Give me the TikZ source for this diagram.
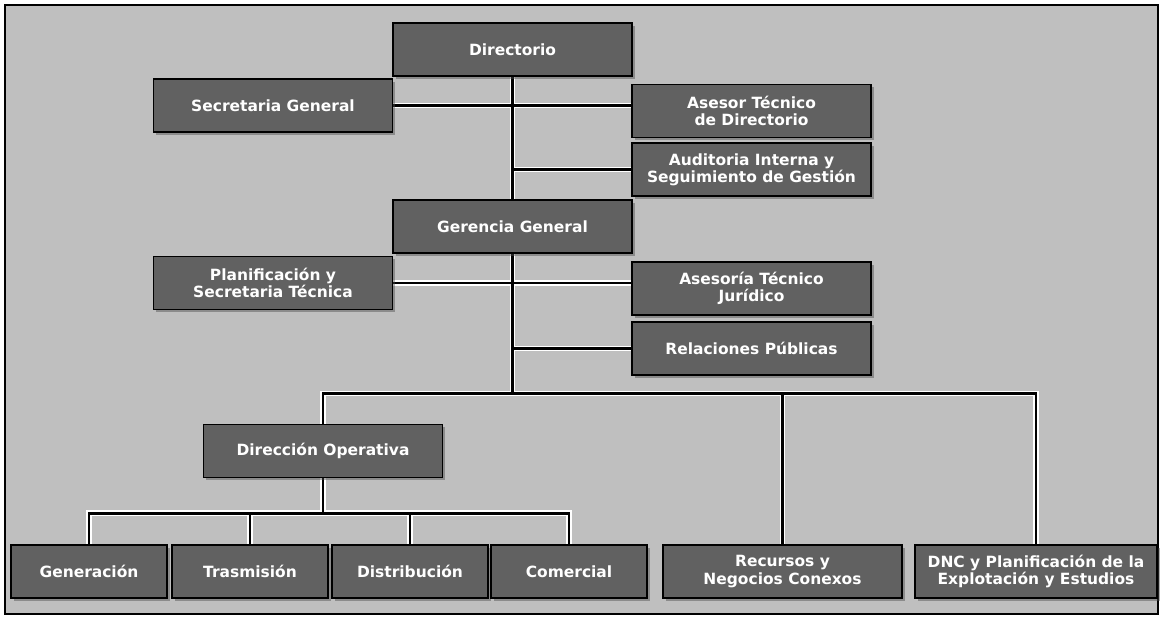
\documentclass[tikz,border=0pt]{standalone}
\usepackage{fontspec}
\setsansfont{DejaVu Sans}
\usetikzlibrary{shadows}
\pgfdeclarelayer{bg}
\pgfdeclarelayer{lines}
\pgfsetlayers{bg,lines,main}

\tikzset{
  box/.style={draw=black, line width=0.8pt, fill=black!62, text=white,
    font=\sffamily\bfseries\fontsize{11.6}{13}\selectfont, align=center,
    inner sep=0pt, minimum height=39.75pt,
    drop shadow={shadow xshift=2pt, shadow yshift=-2pt, opacity=0.45, fill=black!70}},
  widebox/.style={box, minimum width=179.25pt},
  smallbox/.style={box, minimum width=117pt},
  halo/.style={white, line width=4.4pt},
  conn/.style={black, line width=2.2pt},
}

% every connector of the chart, called once for the halo and once for the line
\newcommand\orgconns[1]{%
  \draw[#1] (dir.south) -- (gergen.north);
  \draw[#1] (secgen.east) -- (secgen.east -| asesor.west);
  \draw[#1] (audit.west) -- (audit.west -| dir.south);
  \draw[#1] (planif.east) -- (planif.east -| juridico.west);
  \draw[#1] (rrpp.west) -- (rrpp.west -| gergen.south);
  \draw[#1] (gergen.south) -- (bus);
  \draw[#1] (dirop.north) |- (bus) -| (dnc.north);
  \draw[#1] (bus -| recursos.north) -- (recursos.north);
  \draw[#1] (dirop.south) -- (sub);
  \draw[#1] (gen.north) |- (sub) -| (com.north);
  \draw[#1] (tras.north) -- (tras.north |- sub);
  \draw[#1] (dist.north) -- (dist.north |- sub);
}

\begin{document}
\begin{tikzpicture}[x=0.75pt, y=-0.75pt]
  \useasboundingbox (0,0) rectangle (1163,619);

  %%%%% top level %%%%%
  \node[widebox] (dir) at (512.5, 49.5) {Directorio};
  \node[widebox] (secgen) at (273, 105.5) {Secretaria General};
  \node[widebox] (asesor) at (751.5, 111) {Asesor Técnico\\de Directorio};
  \node[widebox] (audit) at (751.5, 169.5) {Auditoria Interna y\\Seguimiento de Gestión};

  %%%%% gerencia %%%%%
  \node[widebox] (gergen) at (512.5, 226.5) {Gerencia General};
  \node[widebox] (planif) at (273, 283) {Planificación y\\Secretaria Técnica};
  \node[widebox] (juridico) at (751.5, 288.5) {Asesoría Técnico\\Jurídico};
  \node[widebox] (rrpp) at (751.5, 348.5) {Relaciones Públicas};

  %%%%% operativa %%%%%
  \node[widebox] (dirop) at (323, 451) {Dirección Operativa};

  \node[smallbox] (gen) at (89, 571.5) {Generación};
  \node[smallbox] (tras) at (250, 571.5) {Trasmisión};
  \node[smallbox] (dist) at (410, 571.5) {Distribución};
  \node[smallbox] (com) at (569, 571.5) {Comercial};
  \node[widebox] (recursos) at (782.5, 571.5) {Recursos y\\Negocios Conexos};
  \node[widebox, minimum width=181.5pt] (dnc) at (1036, 571.5) {DNC y Planificación de la\\Explotación y Estudios};

  \path (gergen.south) ++(0,140) coordinate (bus);
  \path (dirop.south) ++(0,35) coordinate (sub);

  \begin{pgfonlayer}{bg}
    \fill[white] (0,0) rectangle (1163,619);
    \draw[line width=2.2pt, fill=black!25] (5,5) rectangle (1158,614);
  \end{pgfonlayer}

  \begin{pgfonlayer}{lines}
    \orgconns{halo}
    \orgconns{conn}
  \end{pgfonlayer}
\end{tikzpicture}
\end{document}
